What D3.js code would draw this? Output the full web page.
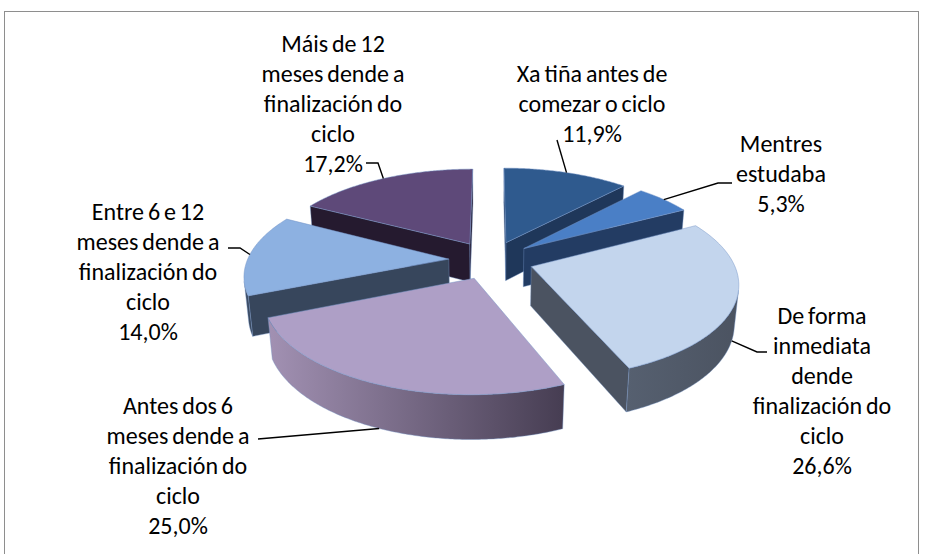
<!DOCTYPE html>
<html>
<head>
<meta charset="utf-8">
<script src="https://cdn.jsdelivr.net/npm/d3@7"></script>
<style>
body { margin: 0; background: #fff; }
svg { display: block; }
text { font-family: Carlito, Lato, "Open Sans", sans-serif; font-size: 24px; word-spacing: -1.5px; fill: #000; }
</style>
</head>
<body>
<svg width="925" height="554"></svg>
<script>
// data
var categories = [
	"Xa tiña antes de\ncomezar o ciclo",
	"Mentres\nestudaba",
	"De forma\ninmediata\ndende\nfinalización do\nciclo",
	"Antes dos 6\nmeses dende a\nfinalización do\nciclo",
	"Entre 6 e 12\nmeses dende a\nfinalización do\nciclo",
	"Máis de 12\nmeses dende a\nfinalización do\nciclo"
];
var values = [11.9, 5.3, 26.6, 25.0, 14.0, 17.2];

// colours
var topColors = ["#2f5a8e", "#4a7fc6", "#c3d5ed", "#ae9fc6", "#8db1e1", "#5e4979"];
var sideLight = ["#2a4670", "#2b4875", "#566070", "#a291b3", "#3f4f67", "#2e2239"];
var sideDark  = ["#1f375a", "#233c63", "#4b5361", "#463d52", "#37465c", "#251a2f"];

// label layout
var labelX = [592, 781, 822, 178, 148, 333];
var labelY = [73, 143, 315, 405, 211, 43];
var lineGap = 30;
var leaders = [
	[[557, 140]],
	[[718, 183], [732, 183]],
	[[757, 352], [767, 352]],
	[[258, 439]],
	[[240, 248], [228, 248]],
	[[378, 163], [366, 163]]
];

function main() {
	var svg = d3.select("svg");

	svg.append("rect").attr("x", 4.5).attr("y", 11.5).attr("width", 914).attr("height", 600)
		.attr("fill", "#fff").attr("stroke", "#8e8e8e").attr("stroke-width", 1);

	// 3d projection of the pie plane
	var cx = 491, cy = 260, F = 1130, D = 5.61;
	var tilt = 27 * Math.PI / 180, s = Math.sin(tilt), c = Math.cos(tilt);
	var R = 1, explode = 0.21, H = 0.22;

	function proj(u, v, h) {
		var depth = D + v * c - h * s;
		return [cx + F * u / depth, cy - F * (v * s + h * c) / depth];
	}
	function pt(d, a, r, h) {
		var u = explode * Math.sin(d.mid) + r * Math.sin(a);
		var v = explode * Math.cos(d.mid) + r * Math.cos(a);
		return proj(u, v, h);
	}

	var pie = d3.pie().sort(null).value(function(d){ return d; });
	var arcs = pie(values);
	arcs.forEach(function(d, i){ d.index = i; d.mid = (d.startAngle + d.endAngle) / 2; });
	// far slices first
	var order = arcs.slice().sort(function(a, b){ return Math.cos(b.mid) - Math.cos(a.mid); });

	var line = d3.line().curve(d3.curveLinearClosed);
	var defs = svg.append("defs");
	var pieG = svg.append("g");
	var edge = "#7393c6";

	order.forEach(function(d){
		var i = d.index;
		var g = pieG.append("g");
		var n = Math.max(2, Math.ceil((d.endAngle - d.startAngle) / 0.01));
		var angles = d3.range(n + 1).map(function(k){ return d.startAngle + (d.endAngle - d.startAngle) * k / n; });
		var top = angles.map(function(a){ return pt(d, a, R, 0); });
		var bot = angles.map(function(a){ return pt(d, a, R, -H); });
		var apexT = pt(d, 0, 0, 0), apexB = pt(d, 0, 0, -H);

		// flat sides
		var sides = [[apexT, top[0], bot[0], apexB], [top[n], apexT, apexB, bot[n]]];
		sides.forEach(function(q){
			if (d3.polygonArea(q) > 0) {
				g.append("path").attr("d", line(q)).attr("fill", sideDark[i])
					.attr("stroke", edge).attr("stroke-width", 0.8).attr("stroke-opacity", 0.5);
			}
		});

		// curved side, only the parts that face us
		var runs = [], cur = null;
		for (var k = 0; k < n; k++) {
			var vis = d3.polygonArea([top[k], top[k + 1], bot[k + 1], bot[k]]) > 0;
			if (vis) { if (!cur) { cur = [k, k]; runs.push(cur); } cur[1] = k; }
			else cur = null;
		}
		runs.forEach(function(r, j){
			var poly = top.slice(r[0], r[1] + 2).concat(bot.slice(r[0], r[1] + 2).reverse());
			var xs = d3.extent(poly, function(p){ return p[0]; });
			var id = "side" + i + "_" + j;
			var grad = defs.append("linearGradient").attr("id", id)
				.attr("gradientUnits", "userSpaceOnUse")
				.attr("x1", xs[0]).attr("x2", xs[1]).attr("y1", 0).attr("y2", 0);
			grad.append("stop").attr("offset", "0%").attr("stop-color", sideLight[i]);
			grad.append("stop").attr("offset", "100%").attr("stop-color", sideDark[i]);
			g.append("path").attr("d", line(poly)).attr("fill", "url(#" + id + ")")
				.attr("stroke", edge).attr("stroke-width", 0.8).attr("stroke-opacity", 0.5);
		});

		// top face
		g.append("path").attr("d", line([apexT].concat(top))).attr("fill", topColors[i])
			.attr("stroke", edge).attr("stroke-width", 0.8).attr("stroke-opacity", 0.6);
	});

	// leader lines
	var leaderG = svg.append("g");
	arcs.forEach(function(d){
		var h = Math.cos(d.mid) < -0.2 ? -H : 0;
		var pts = [pt(d, d.mid, R, h)].concat(leaders[d.index]);
		leaderG.append("path").attr("d", d3.line()(pts))
			.attr("fill", "none").attr("stroke", "#000").attr("stroke-width", 1.4);
	});

	// labels
	var fmt = function(v){ return v.toFixed(1).replace(".", ",") + "%"; };
	arcs.forEach(function(d){
		var i = d.index;
		var lines = categories[i].split("\n").concat([fmt(values[i])]);
		var t = svg.append("text").attr("text-anchor", "middle");
		lines.forEach(function(l, k){
			t.append("tspan").attr("x", labelX[i]).attr("y", labelY[i] + k * lineGap)
				.attr("dominant-baseline", "central").text(l);
		});
	});
}
main();
</script>
</body>
</html>
